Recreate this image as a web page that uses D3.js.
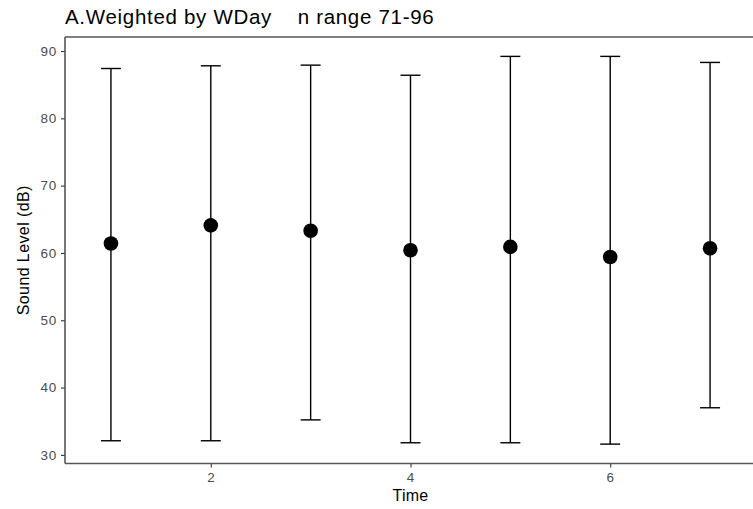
<!DOCTYPE html>
<html>
<head>
<meta charset="utf-8">
<script src="https://cdn.jsdelivr.net/npm/d3@7"></script>
<style>
  html, body { margin: 0; padding: 0; background: #fff; }
  svg { display: block; font-family: "Liberation Sans", Arial, sans-serif; }
</style>
</head>
<body>
<svg id="chart" width="753" height="509"></svg>
<script>
// Weighted sound level per time step: mean with lower/upper interval
const times = [1, 2, 3, 4, 5, 6, 7];
const means = [61.4, 64.1, 63.3, 60.4, 60.9, 59.4, 60.7];
const lower = [32.1, 32.1, 35.2, 31.8, 31.8, 31.6, 37.0];
const upper = [87.4, 87.8, 87.9, 86.4, 89.2, 89.2, 88.3];
const xTicks = [2, 4, 6];
const yTicks = [30, 40, 50, 60, 70, 80, 90];

const svg = d3.select("#chart");
const panel = { left: 65, top: 37, right: 756, bottom: 463.5 };

const x = d3.scaleLinear().domain([0.54, 7.46]).range([panel.left, panel.right]);
const y = d3.scaleLinear().domain([28.72, 92.08]).range([panel.bottom, panel.top]);

const data = times.map((t, i) => ({ t, mean: means[i], lo: lower[i], hi: upper[i] }));

// Title
svg.append("text")
  .attr("x", 65).attr("y", 24)
  .attr("font-size", 20.5)
  .attr("letter-spacing", 0.7)
  .attr("fill", "#000")
  .style("white-space", "pre")
  .text("A.Weighted by WDay    n range 71-96");

// Axes
const yAxis = svg.append("g")
  .attr("transform", `translate(${panel.left},0)`)
  .call(d3.axisLeft(y).tickValues(yTicks).tickSize(4).tickPadding(4));
const xAxis = svg.append("g")
  .attr("transform", `translate(0,${panel.bottom})`)
  .call(d3.axisBottom(x).tickValues(xTicks).tickFormat(d3.format("d")).tickSize(4).tickPadding(5));

[yAxis, xAxis].forEach(g => {
  g.select(".domain").remove();
  g.selectAll(".tick line").attr("stroke", "#333").attr("stroke-width", 1.1);
  g.selectAll(".tick text").attr("fill", "#4d4d4d").attr("font-size", 13.5)
    .attr("letter-spacing", 0.8)
    .attr("font-family", "Liberation Sans, Arial, sans-serif");
});

// Panel frame: left, top and bottom edges (right edge lies past the canvas)
const frame = svg.append("g").attr("stroke", "#555").attr("stroke-width", 1.6).attr("fill", "none");
frame.append("line").attr("x1", panel.left).attr("x2", panel.left)
  .attr("y1", panel.top).attr("y2", panel.bottom);
frame.append("line").attr("x1", panel.left).attr("x2", panel.right)
  .attr("y1", panel.top).attr("y2", panel.top);
frame.append("line").attr("x1", panel.left).attr("x2", panel.right)
  .attr("y1", panel.bottom).attr("y2", panel.bottom);

// Axis titles
svg.append("text")
  .attr("x", x(4)).attr("y", 501)
  .attr("text-anchor", "middle")
  .attr("font-size", 16)
  .attr("letter-spacing", 0.3)
  .attr("fill", "#000")
  .text("Time");

svg.append("text")
  .attr("transform", `translate(29,${(panel.top + panel.bottom) / 2}) rotate(-90)`)
  .attr("text-anchor", "middle")
  .attr("font-size", 16)
  .attr("letter-spacing", 0.4)
  .attr("fill", "#000")
  .text("Sound Level (dB)");

// Error bars
const capHalf = x(1.1) - x(1);
const bars = svg.append("g").attr("stroke", "#000").attr("stroke-width", 1.4).attr("fill", "none");
bars.selectAll("line.v").data(data).join("line").attr("class", "v")
  .attr("x1", d => x(d.t)).attr("x2", d => x(d.t))
  .attr("y1", d => y(d.lo)).attr("y2", d => y(d.hi));
bars.selectAll("line.top").data(data).join("line").attr("class", "top")
  .attr("x1", d => x(d.t) - capHalf).attr("x2", d => x(d.t) + capHalf)
  .attr("y1", d => y(d.hi)).attr("y2", d => y(d.hi));
bars.selectAll("line.bot").data(data).join("line").attr("class", "bot")
  .attr("x1", d => x(d.t) - capHalf).attr("x2", d => x(d.t) + capHalf)
  .attr("y1", d => y(d.lo)).attr("y2", d => y(d.lo));

// Means
svg.append("g").selectAll("circle").data(data).join("circle")
  .attr("cx", d => x(d.t)).attr("cy", d => y(d.mean))
  .attr("r", 7.3).attr("fill", "#000");
</script>
</body>
</html>
